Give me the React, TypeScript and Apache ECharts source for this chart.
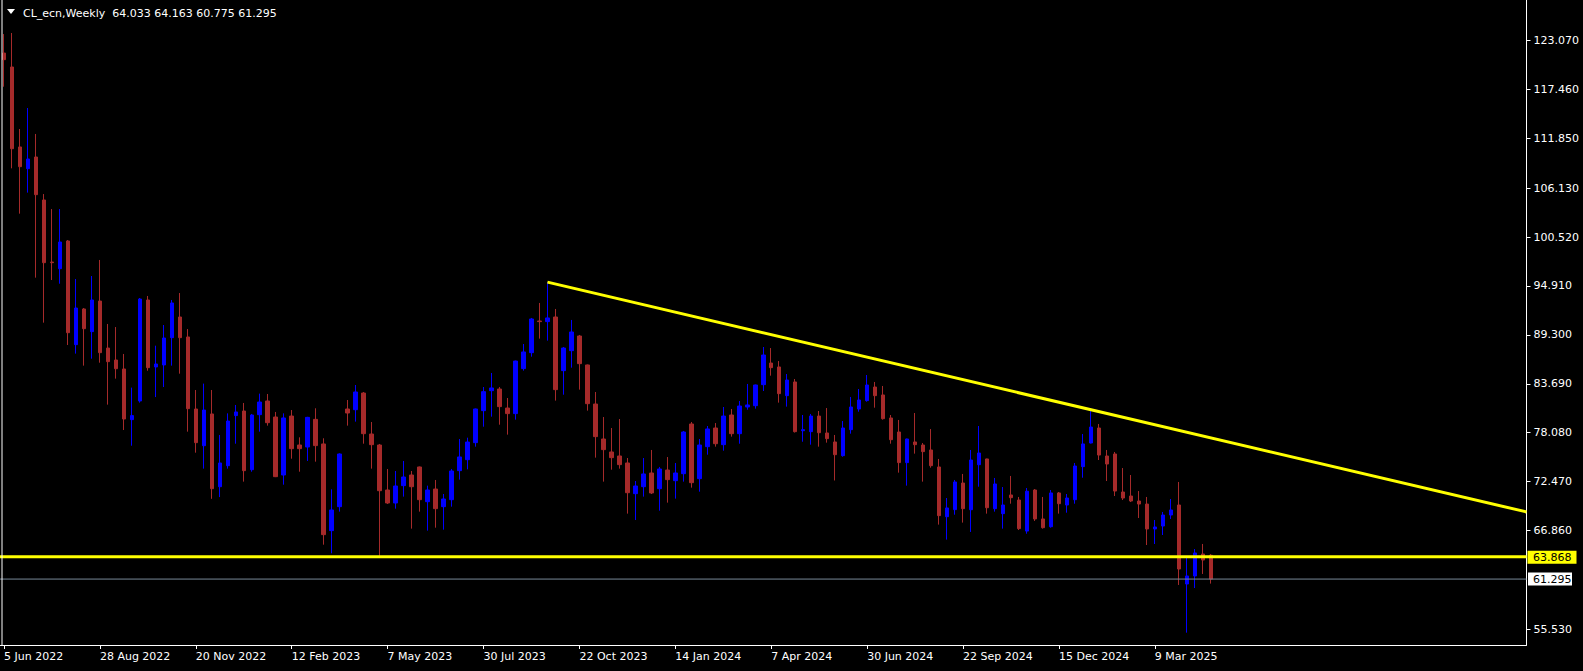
import React, { useEffect, useRef } from "react";
import * as echarts from "echarts";

// ---------------- data ----------------
const symbolTitle = "CL_ecn,Weekly";
const lastQuote = ["64.033", "64.163", "60.775", "61.295"];

const opens = [
  121.62, 120.02, 110.85, 108.36, 109.7, 104.77, 97.65, 96.89, 100.07, 88.18,
  92.27, 89.67, 93.18, 87.79, 86.42, 85.39, 79.58, 81.72, 93.3, 85.62,
  85.85, 88.98, 91.35, 89.06, 80.8, 76.59, 80.23, 71.89, 74.3, 80.04,
  80.57, 73.84, 80.15, 81.72, 79.88, 73.23, 79.99, 76.67, 76.44, 79.61,
  76.79, 66.85, 69.6, 80.8, 80.72, 82.63, 77.93, 76.67, 71.51, 70.02,
  72.01, 73.23, 74.15, 70.17, 71.62, 69.6, 70.4, 73.73, 74.99, 76.94,
  80.61, 82.9, 83.09, 80.91, 80.27, 85.43, 87.26, 90.89, 90.82, 91.35,
  85.2, 87.49, 89.17, 85.85, 81.37, 77.36, 75.87, 75.41, 74.61, 71.09,
  71.89, 73.46, 71.66, 73.8, 72.58, 73.38, 79.08, 72.81, 76.48, 78.62,
  76.71, 80.11, 77.97, 81.03, 81.18, 83.59, 86.07, 85.62, 82.33, 83.9,
  78.31, 78.2, 79.99, 78.05, 77.02, 75.45, 78.43, 80.8, 81.76, 83.32,
  82.41, 79.77, 78.16, 74.65, 77.02, 76.67, 76.1, 74.15, 68.45, 69.26,
  72.31, 69.25, 74.41, 75.07, 69.37, 68.8, 70.94, 70.36, 66.8, 71.51,
  68.19, 67.3, 71.17, 69.79, 70.4, 74.19, 76.9, 78.62, 75.41, 75.64,
  71.28, 70.82, 70.25, 69.9, 67.04, 67.38, 68.64, 69.79, 60.73, 61.65,
  64.17, 64.033,
];
const highs = [
  123.8, 123.92, 112.91, 115.32, 112.34, 105.45, 103.73, 103.73, 100.18, 95.71,
  92.38, 96.05, 97.89, 90.55, 90.2, 87.11, 83.25, 93.53, 93.76, 88.06,
  90.43, 93.3, 94.1, 89.97, 82.98, 83.71, 82.98, 77.82, 80.3, 81.26,
  81.49, 80.23, 82.56, 82.52, 80.46, 80.3, 80.68, 77.55, 79.9, 80.88,
  77.44, 71.59, 75.72, 81.83, 83.55, 82.75, 79.31, 76.79, 73.92, 73.69,
  74.84, 73.69, 74.2, 72.01, 72.66, 71.05, 73.92, 77.36, 77.51, 80.85,
  83.32, 84.93, 83.32, 82.06, 86.35, 88.25, 91.24, 92.96, 95.35, 92.27,
  87.91, 91.01, 89.29, 85.9, 82.75, 79.88, 78.62, 79.65, 75.18, 72.54,
  75.18, 76.1, 74.15, 75.29, 74.61, 78.28, 79.31, 77.36, 78.85, 79.19,
  81.03, 80.8, 81.72, 83.67, 83.6, 87.91, 87.79, 86.3, 84.81, 84.24,
  80.11, 80.23, 80.57, 80.91, 77.82, 79.42, 82.18, 83.09, 84.7, 83.9,
  83.44, 80.11, 79.54, 77.4, 80.34, 76.9, 78.5, 75.07, 70.59, 72.66,
  73.35, 76.1, 78.85, 75.1, 72.89, 71.85, 73.12, 70.71, 71.74, 71.62,
  70.71, 71.51, 71.28, 71.05, 74.61, 77.93, 80.8, 79.08, 76.1, 75.87,
  74.03, 73.23, 71.39, 70.71, 68.07, 68.99, 70.48, 72.43, 63.71, 64.74,
  65.32, 64.163,
];
const lows = [
  117.76, 108.4, 103.2, 105.61, 95.86, 90.7, 95.59, 95.17, 88.14, 87.15,
  85.77, 86.57, 86.11, 81.3, 84.28, 78.39, 76.59, 81.53, 85.19, 82.17,
  83.32, 85.77, 84.85, 78.2, 75.79, 73.96, 70.5, 70.7, 73.96, 76.82,
  72.47, 73.61, 78.2, 78.89, 72.99, 72.12, 75.1, 73.61, 74.84, 74.76,
  65.24, 64.25, 69.03, 78.89, 79.35, 76.82, 73.96, 63.95, 69.91, 69.37,
  70.75, 67.08, 69.03, 66.85, 67.19, 66.96, 69.6, 72.7, 73.88, 76.48,
  78.77, 79.92, 79.0, 77.86, 79.58, 85.2, 86.8, 88.87, 88.64, 81.76,
  82.44, 85.54, 83.02, 80.61, 75.22, 72.47, 73.84, 73.96, 68.8, 68.07,
  70.75, 71.05, 69.14, 70.06, 70.52, 72.47, 71.78, 71.32, 75.56, 76.48,
  76.02, 77.63, 76.82, 80.72, 80.84, 82.86, 84.62, 81.53, 81.07, 78.1,
  77.05, 76.71, 76.48, 76.94, 72.6, 75.33, 77.97, 80.49, 81.64, 80.95,
  79.58, 76.82, 73.5, 72.01, 75.68, 72.47, 74.07, 67.54, 65.82, 68.68,
  67.77, 66.7, 71.89, 68.8, 69.03, 67.08, 69.94, 66.92, 66.5, 67.96,
  67.08, 67.19, 68.8, 68.91, 69.94, 72.92, 76.85, 74.95, 72.54, 70.82,
  70.36, 70.13, 68.3, 65.2, 65.32, 66.35, 68.19, 60.62, 55.15, 60.27,
  61.88, 60.775,
];
const closes = [
  120.86, 110.65, 108.59, 109.47, 105.38, 97.58, 97.58, 99.95, 89.55, 92.38,
  90.01, 93.3, 87.26, 86.23, 85.42, 79.65, 80.04, 93.41, 85.54, 85.96,
  88.94, 92.96, 88.98, 80.84, 76.94, 80.68, 71.66, 74.61, 79.42, 80.46,
  73.73, 80.11, 81.6, 79.23, 73.04, 79.77, 76.25, 76.25, 79.84, 76.6,
  66.39, 69.22, 75.64, 80.34, 82.75, 77.97, 76.71, 71.43, 70.02, 71.97,
  73.0, 71.89, 70.4, 71.51, 69.37, 70.48, 73.69, 75.3, 77.01, 80.8,
  82.79, 83.21, 81.07, 80.27, 86.3, 87.34, 91.12, 90.82, 91.24, 83.02,
  87.79, 89.63, 86.0, 81.41, 77.63, 76.14, 75.22, 74.42, 71.2, 71.97,
  73.35, 71.17, 73.92, 72.7, 73.46, 78.16, 72.35, 76.67, 78.51, 76.82,
  79.99, 77.97, 81.14, 81.26, 83.55, 86.99, 85.54, 82.56, 84.12, 78.2,
  78.43, 79.99, 78.08, 77.4, 75.56, 78.62, 81.03, 81.83, 83.55, 82.33,
  79.69, 77.28, 74.65, 77.36, 76.71, 75.91, 74.3, 68.57, 69.45, 72.43,
  69.37, 74.95, 75.75, 69.48, 72.2, 69.79, 70.63, 67.08, 71.37, 68.19,
  67.19, 71.17, 69.94, 70.59, 74.26, 76.79, 78.73, 75.52, 74.49, 71.39,
  70.59, 70.25, 69.9, 67.04, 67.27, 68.64, 69.22, 62.45, 61.65, 64.29,
  63.48, 61.295,
];

const firstWeek = "2022-06-05";
const totalSlots = 191; // bars + empty chart shift on the right
const timeTickLabels = [
  "5 Jun 2022", "28 Aug 2022", "20 Nov 2022", "12 Feb 2023", "7 May 2023",
  "30 Jul 2023", "22 Oct 2023", "14 Jan 2024", "7 Apr 2024", "30 Jun 2024",
  "22 Sep 2024", "15 Dec 2024", "9 Mar 2025",
];
const priceTickValues = [
  123.07, 117.46, 111.85, 106.13, 100.52, 94.91, 89.3, 83.69, 78.08, 72.47,
  66.86, 55.53,
];
const supportLevel = 63.868;
const bidPrice = 61.295;
const trendAnchors = [
  [68, 95.35],
  [136, 80.72],
];

// ---------------- layout / style ----------------
const W = 1583;
const H = 671;
const GRID_LEFT = -0.7;
const AXIS_X = 1526.5;
const AXIS_Y = 645;
const REF_PRICE = 123.07;
const REF_PX = 40.4;
const PX_PER_UNIT = 8.72;
const FONT = "DejaVu Sans";
const BULL = "#0000FF";
const BEAR = "#A52A2A";
const YELLOW = "#FFFF00";

const MONTHS = ["Jan", "Feb", "Mar", "Apr", "May", "Jun", "Jul", "Aug", "Sep", "Oct", "Nov", "Dec"];
function weekLabels(start: string, n: number): string[] {
  const [y, m, d] = start.split("-").map(Number);
  const out: string[] = [];
  for (let i = 0; i < n; i++) {
    const dt = new Date(Date.UTC(y, m - 1, d + 7 * i));
    out.push(`${dt.getUTCDate()} ${MONTHS[dt.getUTCMonth()]} ${dt.getUTCFullYear()}`);
  }
  return out;
}
const priceToY = (p: number) => REF_PX + (REF_PRICE - p) * PX_PER_UNIT;

export default function App() {
  const ref = useRef<HTMLDivElement>(null);
  useEffect(() => {
    document.body.style.margin = "0";
    document.body.style.background = "#000";
    if (!ref.current) return;
    const chart = echarts.init(ref.current, undefined, { renderer: "svg" });
    const cats = weekLabels(firstWeek, totalSlots);
    const candles = opens.map((o, i) => [o, closes[i], lows[i], highs[i]]);
    const yMax = REF_PRICE + REF_PX / PX_PER_UNIT;
    const yMin = REF_PRICE - (AXIS_Y - REF_PX) / PX_PER_UNIT;
    const xEnd = totalSlots - 0.5;
    const [[tx1, ty1], [tx2, ty2]] = trendAnchors;
    const trendEnd = ty1 + ((xEnd - tx1) * (ty2 - ty1)) / (tx2 - tx1);
    const lastBar = opens.length - 1;
    const showTime = (idx: number, val: string) => idx <= lastBar && timeTickLabels.includes(val);
    const ySup = priceToY(supportLevel);
    const yBid = priceToY(bidPrice);

    chart.setOption({
      animation: false,
      backgroundColor: "#000000",
      grid: { left: GRID_LEFT, right: W - AXIS_X, top: 0, bottom: H - AXIS_Y },
      xAxis: [
        {
          type: "category",
          data: cats,
          boundaryGap: true,
          axisLine: { show: true, onZero: false, lineStyle: { color: "#ffffff", width: 1 } },
          axisTick: { show: true, alignWithLabel: true, interval: showTime, length: 4, lineStyle: { color: "#ffffff" } },
          axisLabel: {
            show: true,
            interval: showTime,
            color: "#ffffff",
            fontFamily: FONT,
            fontSize: 11,
            align: "left",
            margin: 6,
          },
          splitLine: { show: false },
        },
        { type: "value", min: -0.5, max: xEnd, show: false },
      ],
      yAxis: {
        type: "value",
        position: "right",
        min: yMin,
        max: yMax,
        scale: true,
        axisLine: { show: true, onZero: false, lineStyle: { color: "#ffffff", width: 1 } },
        axisTick: { show: true, customValues: priceTickValues, length: 4, lineStyle: { color: "#ffffff" } },
        axisLabel: {
          customValues: priceTickValues,
          formatter: (v: number) => v.toFixed(3),
          color: "#ffffff",
          fontFamily: FONT,
          fontSize: 11,
          margin: 7,
        },
        splitLine: { show: false },
      },
      series: [
        {
          type: "candlestick",
          xAxisIndex: 0,
          yAxisIndex: 0,
          data: candles,
          barWidth: 4,
          clip: true,
          itemStyle: { color: BULL, color0: BEAR, borderColor: BULL, borderColor0: BEAR, borderWidth: 1 },
          z: 2,
        },
        {
          type: "line",
          xAxisIndex: 1,
          data: [[-0.5, bidPrice], [xEnd, bidPrice]],
          symbol: "none",
          lineStyle: { color: "#778899", width: 1 },
          silent: true,
          z: 3,
        },
        {
          type: "line",
          xAxisIndex: 1,
          data: [[-0.5, supportLevel], [xEnd, supportLevel]],
          symbol: "none",
          lineStyle: { color: YELLOW, width: 3 },
          silent: true,
          z: 4,
        },
        {
          type: "line",
          xAxisIndex: 1,
          data: [[tx1, ty1], [xEnd, trendEnd]],
          symbol: "none",
          clip: true,
          lineStyle: { color: YELLOW, width: 3 },
          silent: true,
          z: 4,
        },
      ],
      graphic: [
        { type: "line", z: 100, shape: { x1: 2, y1: 0, x2: 2, y2: AXIS_Y }, style: { stroke: "#ffffff", lineWidth: 1 } },
        { type: "polygon", z: 100, shape: { points: [[7, 9], [15, 9], [11, 14]] }, style: { fill: "#ffffff" } },
        {
          type: "text",
          z: 100,
          x: 23,
          y: 13,
          style: {
            text: `${symbolTitle}  ${lastQuote.join(" ")}`,
            fill: "#ffffff",
            fontFamily: FONT,
            fontSize: 11,
            verticalAlign: "middle",
          },
        },
        { type: "rect", z: 100, shape: { x: 1527.5, y: ySup - 6, width: 49, height: 13 }, style: { fill: YELLOW } },
        {
          type: "text",
          z: 101,
          x: 1533,
          y: ySup + 0.5,
          style: { text: supportLevel.toFixed(3), fill: "#000000", fontFamily: FONT, fontSize: 11, verticalAlign: "middle" },
        },
        { type: "rect", z: 100, shape: { x: 1528, y: yBid - 6.5, width: 44, height: 13 }, style: { fill: "#ffffff" } },
        {
          type: "text",
          z: 101,
          x: 1533,
          y: yBid,
          style: { text: bidPrice.toFixed(3), fill: "#000000", fontFamily: FONT, fontSize: 11, verticalAlign: "middle" },
        },
      ],
    });
    return () => chart.dispose();
  }, []);
  return (
    <div
      ref={ref}
      style={{ position: "fixed", left: 0, top: 0, width: W, height: H, background: "#000" }}
    />
  );
}
